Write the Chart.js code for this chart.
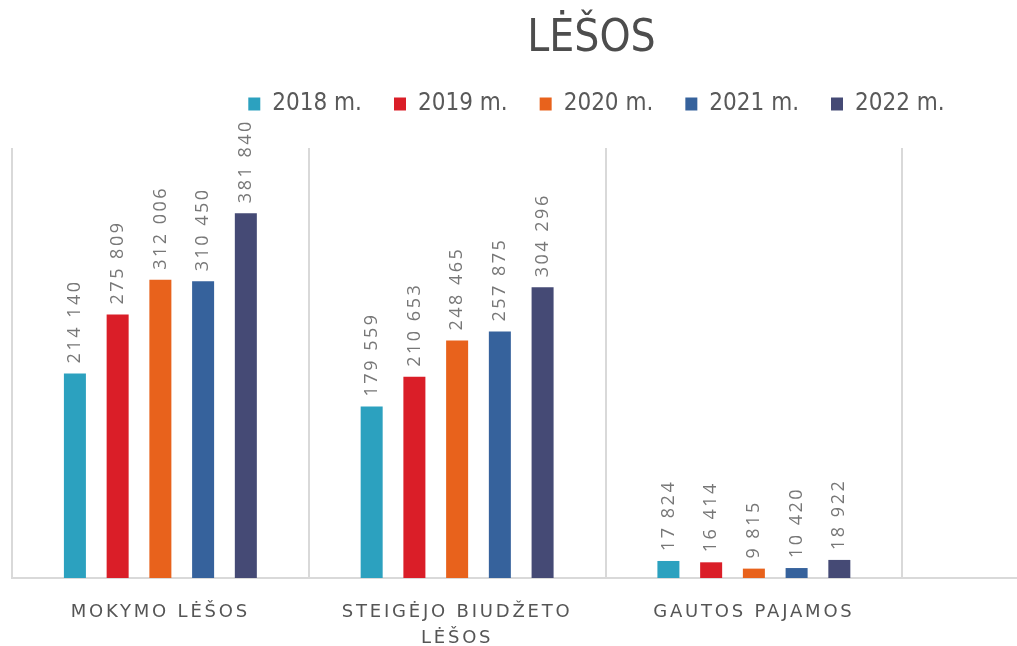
<!DOCTYPE html>
<html>
<head>
<meta charset="utf-8">
<title>LĖŠOS</title>
<script src="https://cdn.jsdelivr.net/npm/chart.js@4.4.0/dist/chart.umd.min.js"></script>
<style>
    html, body { margin: 0; padding: 0; background: #fff; overflow: hidden; }
    #wrap { position: relative; width: 1017px; height: 646px; overflow: hidden; }
    #lesos { position: absolute; left: -11px; top: 0; width: 1210px; height: 646px; }
</style>
</head>
<body>
<div id="wrap"><canvas id="lesos" width="1210" height="646"></canvas></div>
<script>
const categories = ['MOKYMO LĖŠOS', ['STEIGĖJO BIUDŽETO', 'LĖŠOS'], 'GAUTOS PAJAMOS', ''];
const years = ['2018 m.', '2019 m.', '2020 m.', '2021 m.', '2022 m.'];
const values2018 = [214140, 179559, 17824, null];
const values2019 = [275809, 210653, 16414, null];
const values2020 = [312006, 248465, 9815, null];
const values2021 = [310450, 257875, 10420, null];
const values2022 = [381840, 304296, 18922, null];
const colors = ['#2CA1BF', '#DA1E28', '#E8621C', '#36629C', '#454A75'];

const seriesValues = [values2018, values2019, values2020, values2021, values2022];

function fmt(v) {
    return String(v).replace(/\B(?=(\d{3})+(?!\d))/g, ' ');
}

// vertical value labels above each bar
const valueLabels = {
    id: 'valueLabels',
    afterDatasetsDraw(chart) {
        const ctx = chart.ctx;
        ctx.save();
        ctx.font = '18px "Open Sans"';
        ctx.fillStyle = '#777777';
        ctx.letterSpacing = '2.5px';
        ctx.textAlign = 'left';
        ctx.textBaseline = 'middle';
        chart.data.datasets.forEach((ds, i) => {
            chart.getDatasetMeta(i).data.forEach((bar, j) => {
                const v = ds.data[j];
                if (v == null) return;
                ctx.save();
                ctx.translate(bar.x, bar.y - 10);
                ctx.rotate(-Math.PI / 2);
                ctx.fillText(fmt(v), 0, 0);
                ctx.restore();
            });
        });
        ctx.restore();
    }
};

// wider letter spacing for the category labels
const spacedTicks = {
    id: 'spacedTicks',
    afterLayout(chart) {
        const sc = chart.scales.x;
        if (!sc._spaced) {
            const orig = sc.drawLabels;
            sc.drawLabels = function (area) {
                this.ctx.save();
                this.ctx.letterSpacing = '2.8px';
                orig.call(this, area);
                this.ctx.restore();
            };
            sc._spaced = true;
        }
        // the picture is cropped on the right, so nudge title and legend left
        chart.titleBlock.left -= 14;
        chart.titleBlock.right -= 14;
        chart.legend.left -= 9;
        chart.legend.right -= 9;
    }
};

new Chart(document.getElementById('lesos'), {
    type: 'bar',
    data: {
        labels: categories,
        datasets: years.map((y, i) => ({
            label: y,
            data: seriesValues[i],
            backgroundColor: colors[i],
            borderWidth: 0,
            categoryPercentage: 0.72,
            barPercentage: 0.515
        }))
    },
    options: {
        responsive: false,
        devicePixelRatio: 1,
        animation: false,
        layout: { padding: { left: 23, right: 0, top: 0, bottom: 0 } },
        plugins: {
            title: {
                display: true,
                text: 'LĖŠOS',
                color: '#4d4d4d',
                font: { family: '"DejaVu Sans Condensed", "Liberation Sans Narrow", sans-serif', size: 44, weight: 'normal', lineHeight: 1 },
                padding: { top: 18, bottom: -2 }
            },
            subtitle: {
                display: true,
                text: '',
                weight: 500,
                font: { size: 10, lineHeight: 1.2 },
                padding: { top: 10, bottom: 0 }
            },
            legend: {
                labels: {
                    boxWidth: 12,
                    boxHeight: 13,
                    padding: 32,
                    color: '#595959',
                    font: { family: '"DejaVu Sans Condensed", "Liberation Sans Narrow", sans-serif', size: 24 }
                }
            },
            tooltip: { enabled: false }
        },
        scales: {
            x: {
                grid: { color: '#d9d9d9', lineWidth: 2, drawTicks: false },
                border: { color: '#d9d9d9', width: 2 },
                ticks: {
                    color: '#555555',
                    padding: 21,
                    autoSkip: false,
                    maxRotation: 0,
                    font: { family: '"DejaVu Sans", sans-serif', size: 18, lineHeight: 1.45 }
                },
                afterFit(scale) {
                    scale.height = 68;
                }
            },
            y: {
                display: false,
                min: 0,
                max: 450000
            }
        }
    },
    plugins: [valueLabels, spacedTicks]
});
</script>
</body>
</html>
